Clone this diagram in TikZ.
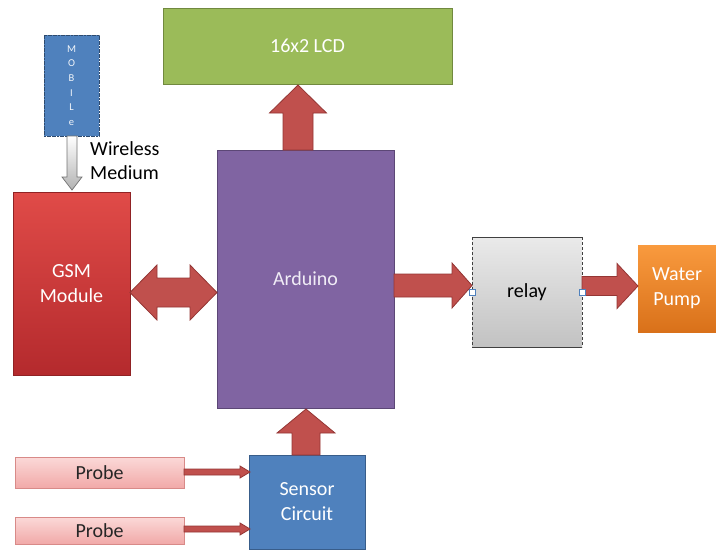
\documentclass[tikz,border=0pt]{standalone}
\usepackage{fontspec}
\setmainfont{Carlito}
\usetikzlibrary{calc}
\definecolor{lcdfill}{HTML}{9BBB59}
\definecolor{lcddraw}{HTML}{71893F}
\definecolor{ardfill}{HTML}{8064A2}
\definecolor{arddraw}{HTML}{5C4776}
\definecolor{arrfill}{HTML}{C0504D}
\definecolor{arrdraw}{HTML}{943634}
\definecolor{bluefill}{HTML}{4F81BD}
\definecolor{bluedraw}{HTML}{385D8A}
\definecolor{gsmtop}{HTML}{E04B48}
\definecolor{gsmbot}{HTML}{B42A2D}
\definecolor{pumptop}{HTML}{F99A3E}
\definecolor{pumpbot}{HTML}{D9711A}
\definecolor{probetop}{HTML}{FBD9D8}
\definecolor{probebot}{HTML}{F1A9A8}
\definecolor{probedraw}{HTML}{D88A88}
\definecolor{relaytop}{HTML}{EAEAEA}
\definecolor{relaybot}{HTML}{C2C2C2}
\definecolor{ardtext}{HTML}{F0ECF6}
\newcommand\hfat[6]{\draw[fat] (#1,#4-#5) -- (#3,#4-#5) -- (#3,#4-#6) -- (#2,#4) -- (#3,#4+#6) -- (#3,#4+#5) -- (#1,#4+#5) -- cycle;}
\newcommand\vfat[6]{\draw[fat] (#1-#5,#2) -- (#1-#5,#4) -- (#1-#6,#4) -- (#1,#3) -- (#1+#6,#4) -- (#1+#5,#4) -- (#1+#5,#2) -- cycle;}
\tikzset{
  box/.style={inner sep=0pt, outer sep=0pt, line width=0.9pt, align=center,
    font=\fontsize{20}{25}\selectfont},
  fat/.style={fill=arrfill, draw=arrdraw, line width=0.8pt, line join=miter},
  handle/.style={draw=bluefill, fill=white, line width=0.6pt, minimum size=6pt, inner sep=0pt}
}
\begin{document}
\begin{tikzpicture}[x=1pt,y=-1pt]
\useasboundingbox (0,0) rectangle (716,550);
% boxes
\node[box, fill=lcdfill, draw=lcddraw, text=white, minimum width=289pt, minimum height=76pt] (lcd) at (307.5,46) {16x2 LCD};
\node[box, fill=ardfill, draw=arddraw, text=ardtext, minimum width=177pt, minimum height=258pt] (ard) at (305.5,279) {Arduino};
\node[box, top color=gsmtop, bottom color=gsmbot, draw=gsmbot!80!black, text=white, minimum width=117pt, minimum height=183pt] (gsm) at (71.5,283.5) {GSM\\Module};
\node[box, fill=bluefill, draw=bluedraw!80!black, dash pattern=on 2pt off 0.6pt, text=white!92!bluefill, minimum width=55pt, minimum height=101pt,
  font=\fontsize{10.5}{14.6}\selectfont] (mob) at (71.5,85.5) {M\\O\\B\\I\\L\\e};
\node[box, top color=relaytop, bottom color=relaybot, minimum width=110pt, minimum height=110pt] (relay) at (527,292) {relay};
\draw[black!75, line width=0.8pt] (relay.north west) -- (relay.north east) (relay.south west) -- (relay.south east);
\draw[black!75, densely dashed, line width=0.8pt] (relay.north west) -- (relay.south west) (relay.north east) -- (relay.south east);
\node[box, top color=pumptop, bottom color=pumpbot, text=white, minimum width=78pt, minimum height=87pt] (pump) at (677,288.5) {Water\\Pump};
\node[box, fill=bluefill, draw=bluedraw, text=white, minimum width=116pt, minimum height=94pt] (sens) at (307,502) {Sensor\\Circuit};
\node[box, top color=probetop, bottom color=probebot, draw=probedraw, text=black!85, minimum width=169pt, minimum height=31pt] (p1) at (99.5,472.5) {Probe};
\node[box, top color=probetop, bottom color=probebot, draw=probedraw, text=black!85, minimum width=169pt, minimum height=27pt] (p2) at (99.5,530.5) {Probe};
% wireless arrow
\draw[top color=white, bottom color=black!30, draw=black!55, line width=0.7pt]
  (67,136) -- (67,177) -- (62,177) -- (72,190) -- (82,177) -- (77,177) -- (77,136) -- cycle;
\node[anchor=north west, inner sep=0pt, align=left, font=\fontsize{20}{24}\selectfont] (wl) at (90,141) {Wireless\\Medium};
% fat arrows
\vfat{298}{150}{85}{113}{15}{28.5}
\vfat{306}{455}{409}{433}{14}{29}
\hfat{394}{472}{452}{285.5}{11.5}{22.5}
\hfat{582}{638}{617}{286}{9.5}{22.5}
\draw[fat] (130,292.5) -- (157,265) -- (157,278) -- (190,278) -- (190,265) -- (217,292.5)
  -- (190,320) -- (190,307) -- (157,307) -- (157,320) -- cycle;
% probe arrows
\hfat{184}{250}{240}{472}{3}{6}
\hfat{184}{250}{240}{529}{3}{6}
% relay handles
\node[handle] (h1) at (relay.west) {};
\node[handle] (h2) at (relay.east) {};
\end{tikzpicture}
\end{document}
